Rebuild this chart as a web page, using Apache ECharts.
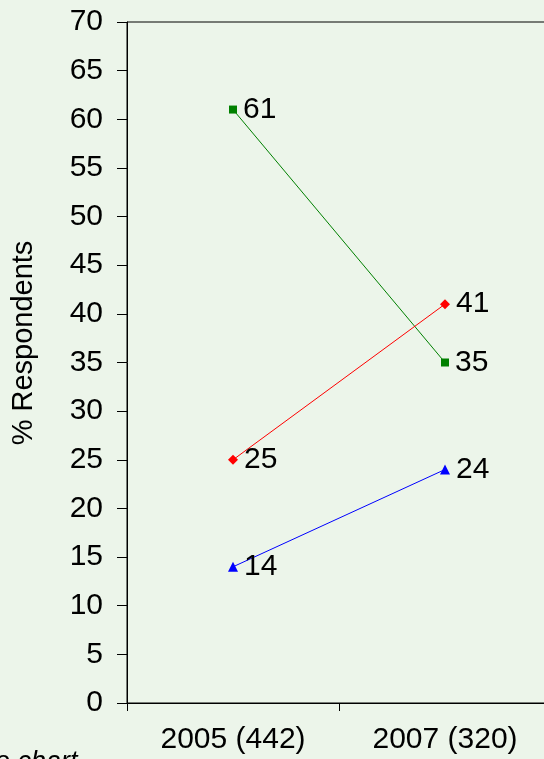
<!DOCTYPE html>
<html>
<head>
<meta charset="utf-8">
<script src="https://cdn.jsdelivr.net/npm/echarts@6/dist/echarts.min.js"></script>
<style>
  html, body { margin: 0; padding: 0; background: #ecf5ea; }
  #main { width: 544px; height: 759px; }
</style>
</head>
<body>
<div id="main"></div>
<script>
// categories and values
var years = ['2005 (442)', '2007 (320)'];
var greenSeries = [61, 35];
var redSeries = [25, 41];
var blueSeries = [14, 24];

var font = '"Liberation Sans", Arial, sans-serif';

var myChart = echarts.init(document.getElementById('main'));

function line(data, color, symbol, size) {
    return {
        type: 'line',
        data: data,
        symbol: symbol,
        symbolSize: size,
        lineStyle: { color: color, width: 1 },
        itemStyle: { color: color },
        label: {
            show: true,
            position: 'right',
            distance: 6,
            color: '#000',
            fontSize: 30,
            fontFamily: font
        },
        animation: false
    };
}

var option = {
    backgroundColor: '#ecf5ea',
    grid: {
        left: 127,
        top: 22,
        bottom: 56,
        right: -7,
        outerBoundsMode: 'none',
        containLabel: false,
        show: true,
        borderColor: '#000',
        borderWidth: 1,
        backgroundColor: 'transparent'
    },
    xAxis: {
        type: 'category',
        data: years,
        axisLine: { lineStyle: { color: '#000', width: 1 } },
        axisTick: { show: true, length: 8, lineStyle: { color: '#000' } },
        axisLabel: { color: '#000', fontSize: 30, fontFamily: font, margin: 22 },
        splitLine: { show: false }
    },
    yAxis: {
        type: 'value',
        min: 0,
        max: 70,
        interval: 5,
        axisLine: { show: true, lineStyle: { color: '#000', width: 1 } },
        axisTick: { show: true, length: 10, lineStyle: { color: '#000' } },
        axisLabel: { color: '#000', fontSize: 30, fontFamily: font, margin: 24 },
        splitLine: { show: false }
    },
    graphic: [
        {
            type: 'text',
            x: 24,
            y: 343,
            rotation: Math.PI / 2,
            style: {
                text: '% Respondents',
                fontSize: 29,
                fontFamily: font,
                fill: '#000',
                align: 'center',
                verticalAlign: 'middle'
            }
        },
        {
            type: 'text',
            x: -5,
            y: 749,
            style: {
                text: 'e chart',
                fontSize: 27,
                fontStyle: 'italic',
                fontFamily: font,
                fill: '#000',
                align: 'left',
                verticalAlign: 'top'
            }
        }
    ],
    series: [
        line(greenSeries, '#008000', 'rect', 8),
        line(redSeries, '#ff0000', 'diamond', 10),
        line(blueSeries, '#0000ff', 'triangle', 10)
    ]
};

myChart.setOption(option);
</script>
</body>
</html>
